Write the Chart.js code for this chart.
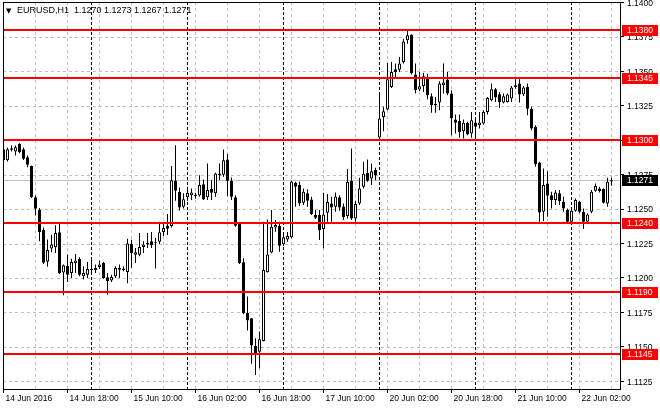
<!DOCTYPE html>
<html>
<head>
<meta charset="utf-8">
<title>EURUSD,H1</title>
<script src="https://cdn.jsdelivr.net/npm/chart.js@4.4.1/dist/chart.umd.min.js"></script>
<style>
  html, body { margin: 0; padding: 0; background: #fff; }
</style>
</head>
<body>
<canvas id="chart" width="660" height="410"></canvas>
<script>
// EURUSD H1 candles, 14 Jun 2016 02:00 .. 22 Jun 2016
const title = 'EURUSD,H1  1.1270 1.1273 1.1267 1.1271';

const opens = [
  1.12935, 1.12855, 1.12942, 1.12918, 1.12973, 1.12935, 1.12877, 1.12812, 1.12585, 1.12495,
  1.12348, 1.12118, 1.12213, 1.12222, 1.12331, 1.12039, 1.12089, 1.12036, 1.12106, 1.12138,
  1.12012, 1.12024, 1.12058, 1.12072, 1.12080, 1.12109, 1.12005, 1.11981, 1.12012, 1.12072,
  1.12068, 1.12043, 1.12246, 1.12169, 1.12169, 1.12225, 1.12242, 1.12266, 1.12254, 1.12263,
  1.12333, 1.12379, 1.12377, 1.12705, 1.12623, 1.12517, 1.12585, 1.12601, 1.12601, 1.12599,
  1.12681, 1.12585, 1.12645, 1.12614, 1.12746, 1.12749, 1.12860, 1.12703, 1.12585, 1.12396,
  1.12114, 1.11746, 1.11708, 1.11507, 1.11464, 1.11543, 1.12041, 1.12184, 1.12367, 1.12377,
  1.12244, 1.12280, 1.12295, 1.12693, 1.12674, 1.12546, 1.12614, 1.12570, 1.12457, 1.12457,
  1.12355, 1.12473, 1.12541, 1.12517, 1.12585, 1.12519, 1.12449, 1.12705, 1.12432, 1.12541,
  1.12662, 1.12761, 1.12722, 1.12783, 1.13019, 1.13169, 1.13222, 1.13386, 1.13514, 1.13512,
  1.13568, 1.13725, 1.13768, 1.13476, 1.13367, 1.13394, 1.13452, 1.13319, 1.13263, 1.13273,
  1.13399, 1.13440, 1.13338, 1.13150, 1.13140, 1.13065, 1.13126, 1.13048, 1.13128, 1.13109,
  1.13121, 1.13205, 1.13290, 1.13370, 1.13333, 1.13273, 1.13278, 1.13302, 1.13399, 1.13411,
  1.13333, 1.13386, 1.13229, 1.13097, 1.12838, 1.12481, 1.12686, 1.12601, 1.12565, 1.12614,
  1.12553, 1.12493, 1.12408, 1.12488, 1.12553, 1.12481, 1.12408, 1.12481, 1.12633, 1.12650,
  1.12645, 1.12541, 1.12700
];
const highs = [
  1.12942, 1.12947, 1.12961, 1.12961, 1.12978, 1.12947, 1.12889, 1.12816, 1.12599, 1.12507,
  1.12367, 1.12280, 1.12314, 1.12382, 1.12391, 1.12097, 1.12169, 1.12140, 1.12174, 1.12150,
  1.12085, 1.12116, 1.12130, 1.12097, 1.12126, 1.12116, 1.12036, 1.12024, 1.12085, 1.12097,
  1.12085, 1.12285, 1.12278, 1.12217, 1.12326, 1.12266, 1.12326, 1.12333, 1.12290, 1.12408,
  1.12396, 1.12464, 1.12812, 1.12964, 1.12657, 1.12614, 1.12662, 1.12650, 1.12618, 1.12746,
  1.12715, 1.12831, 1.12710, 1.12763, 1.12831, 1.12932, 1.12899, 1.12729, 1.12601, 1.12401,
  1.12143, 1.11865, 1.11708, 1.11563, 1.11611, 1.12408, 1.12425, 1.12493, 1.12420, 1.12408,
  1.12324, 1.12333, 1.12705, 1.12698, 1.12698, 1.12650, 1.12643, 1.12589, 1.12493, 1.12493,
  1.12618, 1.12609, 1.12589, 1.12621, 1.12601, 1.12541, 1.12790, 1.12940, 1.12558, 1.12727,
  1.12843, 1.12860, 1.12831, 1.12800, 1.13338, 1.13242, 1.13560, 1.13568, 1.13556, 1.13604,
  1.13737, 1.13804, 1.13768, 1.13556, 1.13495, 1.13490, 1.13483, 1.13338, 1.13314, 1.13428,
  1.13556, 1.13495, 1.13362, 1.13186, 1.13186, 1.13150, 1.13133, 1.13205, 1.13162, 1.13205,
  1.13217, 1.13314, 1.13411, 1.13379, 1.13350, 1.13338, 1.13338, 1.13394, 1.13442, 1.13442,
  1.13394, 1.13411, 1.13242, 1.13109, 1.12843, 1.12795, 1.12775, 1.12626, 1.12638, 1.12638,
  1.12589, 1.12505, 1.12505, 1.12577, 1.12558, 1.12505, 1.12469, 1.12638, 1.12686, 1.12662,
  1.12650, 1.12727, 1.12730
];
const lows = [
  1.12855, 1.12845, 1.12918, 1.12889, 1.12906, 1.12857, 1.12804, 1.12580, 1.12454, 1.12266,
  1.12101, 1.12082, 1.12186, 1.12181, 1.12029, 1.11874, 1.11971, 1.12000, 1.12036, 1.12012,
  1.11988, 1.12000, 1.12024, 1.12036, 1.12065, 1.11995, 1.11879, 1.11971, 1.12000, 1.12000,
  1.12048, 1.11961, 1.12072, 1.12109, 1.12157, 1.12181, 1.12217, 1.12217, 1.12068, 1.12246,
  1.12304, 1.12312, 1.12367, 1.12560, 1.12488, 1.12505, 1.12560, 1.12565, 1.12577, 1.12589,
  1.12565, 1.12565, 1.12565, 1.12589, 1.12710, 1.12734, 1.12594, 1.12565, 1.12372, 1.12101,
  1.11737, 1.11618, 1.11377, 1.11295, 1.11345, 1.11539, 1.12039, 1.12179, 1.12336, 1.12191,
  1.12232, 1.12263, 1.12287, 1.12517, 1.12522, 1.12529, 1.12517, 1.12457, 1.12428, 1.12275,
  1.12215, 1.12408, 1.12408, 1.12481, 1.12488, 1.12420, 1.12432, 1.12420, 1.12408, 1.12529,
  1.12650, 1.12698, 1.12674, 1.12710, 1.13007, 1.13065, 1.13217, 1.13379, 1.13459, 1.13495,
  1.13556, 1.13700, 1.13476, 1.13338, 1.13355, 1.13350, 1.13297, 1.13200, 1.13200, 1.13217,
  1.13338, 1.13326, 1.13036, 1.13048, 1.13017, 1.13012, 1.13036, 1.13017, 1.13024, 1.13085,
  1.13114, 1.13186, 1.13283, 1.13278, 1.13234, 1.13266, 1.13273, 1.13278, 1.13374, 1.13273,
  1.13321, 1.13181, 1.13072, 1.12807, 1.12408, 1.12413, 1.12444, 1.12505, 1.12529, 1.12529,
  1.12481, 1.12403, 1.12408, 1.12481, 1.12469, 1.12355, 1.12403, 1.12469, 1.12626, 1.12621,
  1.12541, 1.12517, 1.12670
];
const closes = [
  1.12857, 1.12935, 1.12930, 1.12949, 1.12913, 1.12865, 1.12821, 1.12585, 1.12502, 1.12333,
  1.12111, 1.12203, 1.12242, 1.12326, 1.12036, 1.12092, 1.12024, 1.12116, 1.12126, 1.12024,
  1.12036, 1.12065, 1.12060, 1.12058, 1.12097, 1.12000, 1.11976, 1.12007, 1.12072, 1.12060,
  1.12056, 1.12251, 1.12181, 1.12186, 1.12225, 1.12242, 1.12254, 1.12237, 1.12252, 1.12331,
  1.12362, 1.12357, 1.12710, 1.12633, 1.12512, 1.12572, 1.12618, 1.12621, 1.12594, 1.12674,
  1.12570, 1.12638, 1.12618, 1.12758, 1.12758, 1.12855, 1.12705, 1.12589, 1.12379, 1.12106,
  1.11744, 1.11691, 1.11510, 1.11454, 1.11556, 1.12058, 1.12171, 1.12372, 1.12384, 1.12234,
  1.12295, 1.12304, 1.12700, 1.12662, 1.12541, 1.12626, 1.12560, 1.12464, 1.12437, 1.12348,
  1.12461, 1.12551, 1.12512, 1.12592, 1.12512, 1.12440, 1.12696, 1.12432, 1.12536, 1.12650,
  1.12756, 1.12705, 1.12775, 1.12744, 1.13157, 1.13210, 1.13442, 1.13495, 1.13495, 1.13556,
  1.13717, 1.13761, 1.13488, 1.13362, 1.13391, 1.13464, 1.13326, 1.13254, 1.13254, 1.13411,
  1.13418, 1.13338, 1.13157, 1.13126, 1.13060, 1.13126, 1.13041, 1.13145, 1.13097, 1.13128,
  1.13205, 1.13307, 1.13370, 1.13309, 1.13278, 1.13319, 1.13331, 1.13382, 1.13386, 1.13331,
  1.13382, 1.13229, 1.13085, 1.12826, 1.12476, 1.12674, 1.12597, 1.12565, 1.12621, 1.12558,
  1.12505, 1.12408, 1.12488, 1.12565, 1.12481, 1.12408, 1.12461, 1.12626, 1.12667, 1.12630,
  1.12546, 1.12698, 1.12710
];

// time axis labels (bar index -> text)
const tickIndex = [0, 16, 32, 48, 64, 80, 96, 112, 128, 144];
const tickLabels = ['14 Jun 2016', '14 Jun 18:00', '15 Jun 10:00', '16 Jun 02:00', '16 Jun 18:00',
                    '17 Jun 10:00', '20 Jun 02:00', '20 Jun 18:00', '21 Jun 10:00', '22 Jun 02:00'];
// midnight bars (period separators)
const daySeparators = [22, 46, 70, 94, 118, 142];
// horizontal levels and current bid
const levels = [1.1380, 1.1345, 1.1300, 1.1240, 1.1190, 1.1145];
const lastPrice = 1.1271;

const FONT = "'Liberation Sans', Arial, sans-serif";
Chart.defaults.font.family = FONT;
Chart.defaults.font.size = 8.5;
Chart.defaults.color = '#000';

function hline(ctx, x1, x2, y) {
    ctx.beginPath(); ctx.moveTo(x1, y); ctx.lineTo(x2, y); ctx.stroke();
}
function vline(ctx, x, y1, y2) {
    ctx.beginPath(); ctx.moveTo(x, y1); ctx.lineTo(x, y2); ctx.stroke();
}
function priceBox(ctx, py, text, color) {
    ctx.fillStyle = color;
    ctx.fillRect(622, Math.round(py) - 5, 36, 11);
    ctx.fillStyle = '#fff';
    ctx.textAlign = 'left';
    ctx.textBaseline = 'middle';
    ctx.fillText(text, 627, Math.round(py) + 0.5);
}

// grid, separators, levels, frame and title
const terminalLook = {
    id: 'terminalLook',
    beforeDraw(chart) {
        const ctx = chart.ctx;
        ctx.save();
        ctx.fillStyle = '#fff';
        ctx.fillRect(0, 0, chart.width, chart.height);
        ctx.restore();
    },
    beforeDatasetsDraw(chart) {
        const { ctx, chartArea: a, scales: { x, y } } = chart;
        ctx.save();
        ctx.lineWidth = 1;
        ctx.strokeStyle = '#c0c0c0';
        ctx.setLineDash([3, 3]);
        y.ticks.forEach(t => {
            const py = Math.round(y.getPixelForValue(t.value)) + 0.5;
            hline(ctx, a.left, a.right, py);
        });
        for (let i = 8; i < opens.length; i += 8) {
            const px = Math.floor(x.getPixelForValue(i)) + 0.5;
            vline(ctx, px, a.top, a.bottom);
        }
        ctx.strokeStyle = '#000';
        ctx.setLineDash([3, 2]);
        daySeparators.forEach(i => {
            const px = Math.floor(x.getPixelForValue(i)) + 0.5;
            vline(ctx, px, a.top, a.bottom);
        });
        ctx.setLineDash([]);
        ctx.strokeStyle = '#c0c0c0';
        hline(ctx, a.left, a.right, Math.round(y.getPixelForValue(lastPrice)) + 0.5);
        ctx.restore();
    },
    afterDatasetsDraw(chart) {
        const { ctx, chartArea: a, scales: { y } } = chart;
        ctx.save();
        ctx.strokeStyle = '#ff0000';
        ctx.lineWidth = 2;
        levels.forEach(v => hline(ctx, a.left, a.right, Math.round(y.getPixelForValue(v))));
        ctx.restore();
    },
    afterDraw(chart) {
        const { ctx, chartArea: a, scales: { y } } = chart;
        ctx.save();
        ctx.strokeStyle = '#000';
        ctx.lineWidth = 1;
        ctx.strokeRect(Math.floor(a.left) + 0.5, Math.floor(a.top) + 0.5,
                       Math.round(a.right - a.left), Math.round(a.bottom - a.top));
        ctx.font = '8.5px ' + FONT;
        levels.forEach(v => priceBox(ctx, y.getPixelForValue(v), v.toFixed(4), '#ff0000'));
        priceBox(ctx, y.getPixelForValue(lastPrice), lastPrice.toFixed(4), '#000');

        ctx.fillStyle = '#000';
        ctx.textBaseline = 'middle';
        ctx.textAlign = 'left';
        ctx.font = '7px DejaVu Sans';
        ctx.fillText('\u25BC', 6, 11);
        ctx.font = '9px ' + FONT;
        ctx.fillText(title, 17, 11);
        ctx.restore();
    }
};

const bodyData = opens.map((o, i) => ({ x: i, y: [o, closes[i]] }));
const wickData = lows.map((l, i) => ({ x: i, y: [l, highs[i]] }));

new Chart(document.getElementById('chart'), {
    type: 'bar',
    data: {
        datasets: [{
            label: 'body',
            data: bodyData,
            grouped: false,
            backgroundColor: opens.map((o, i) => closes[i] >= o ? '#ffffff' : '#000000'),
            borderColor: '#000',
            borderWidth: 1,
            borderSkipped: false,
            minBarLength: 1,
            inflateAmount: 0,
            barPercentage: 1,
            categoryPercentage: 1,
            maxBarThickness: 3
        }, {
            label: 'wick',
            data: wickData,
            grouped: false,
            backgroundColor: '#000',
            borderWidth: 0,
            inflateAmount: 0,
            barPercentage: 1,
            categoryPercentage: 1,
            maxBarThickness: 1
        }]
    },
    options: {
        responsive: false,
        devicePixelRatio: 1,
        animation: false,
        layout: { padding: { left: 3, top: 2, right: 0, bottom: 0 } },
        plugins: { legend: { display: false }, tooltip: { enabled: false } },
        scales: {
            x: {
                type: 'linear',
                offset: false,
                min: -0.125,
                max: 154.125,
                afterBuildTicks: scale => { scale.ticks = tickIndex.map(v => ({ value: v })); },
                afterFit: scale => { scale.height = 21; scale.paddingLeft = 0; scale.paddingRight = 0; },
                ticks: {
                    autoSkip: false,
                    maxRotation: 0,
                    minRotation: 0,
                    align: 'start',
                    labelOffset: 2,
                    padding: 1,
                    callback: v => { const k = tickIndex.indexOf(v); return k >= 0 ? tickLabels[k] : ''; }
                },
                grid: { display: true, offset: false, drawOnChartArea: false, drawTicks: true, tickLength: 4, tickColor: '#000', color: '#000' },
                border: { display: false }
            },
            y: {
                position: 'right',
                min: 1.11194,
                max: 1.14003,
                afterFit: scale => { scale.width = 40; scale.paddingTop = 0; scale.paddingBottom = 0; },
                ticks: {
                    stepSize: 0.0025,
                    includeBounds: false,
                    maxTicksLimit: 30,
                    padding: 3,
                    labelOffset: 1,
                    callback: v => v.toFixed(4)
                },
                grid: { display: true, drawOnChartArea: false, drawTicks: true, tickLength: 4, tickColor: '#000', color: '#000' },
                border: { display: false }
            }
        }
    },
    plugins: [terminalLook]
});
</script>
</body>
</html>
